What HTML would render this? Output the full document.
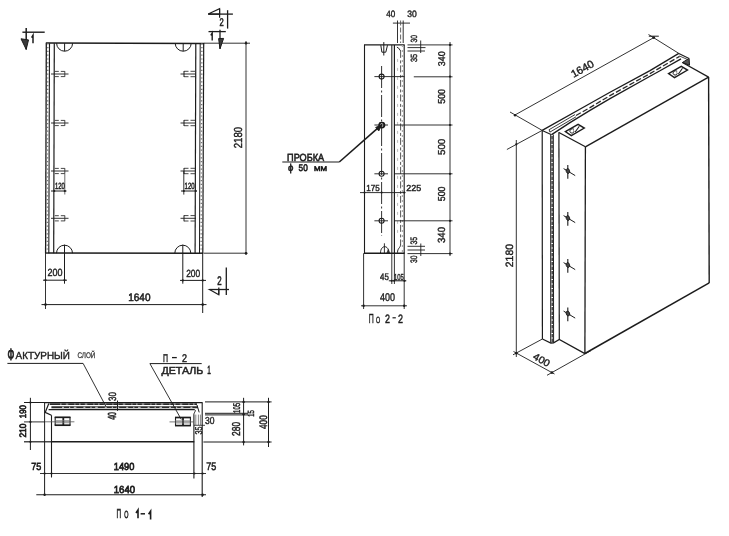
<!DOCTYPE html>
<html><head><meta charset="utf-8"><title>Panel drawing</title>
<style>
html,body{margin:0;padding:0;background:#fff;}
body{width:729px;height:536px;overflow:hidden;font-family:"Liberation Sans",sans-serif;}
svg{display:block;filter:grayscale(1);}
svg text{font-family:"Liberation Sans",sans-serif;text-rendering:geometricPrecision;}
</style></head><body>
<svg width="729" height="536" viewBox="0 0 729 536" stroke-linecap="butt">
<rect x="0" y="0" width="729" height="536" fill="#fff"/>
<line x1="45.80" y1="43.05" x2="204.20" y2="43.40" stroke="#1c1c1c" stroke-width="1.5"/>
<line x1="45.10" y1="252.90" x2="203.30" y2="253.30" stroke="#1c1c1c" stroke-width="1.5"/>
<line x1="46.30" y1="43.20" x2="45.60" y2="253.20" stroke="#1c1c1c" stroke-width="1.3"/>
<line x1="203.70" y1="43.20" x2="202.80" y2="253.20" stroke="#1c1c1c" stroke-width="1.2"/>
<line x1="49.50" y1="43.20" x2="48.80" y2="253.20" stroke="#1c1c1c" stroke-width="1.1"/>
<line x1="54.30" y1="43.20" x2="53.70" y2="253.20" stroke="#1c1c1c" stroke-width="1.2"/>
<line x1="195.80" y1="43.20" x2="195.10" y2="253.20" stroke="#1c1c1c" stroke-width="1.2"/>
<line x1="200.20" y1="43.20" x2="199.50" y2="253.20" stroke="#1c1c1c" stroke-width="1.0"/>
<line x1="47.90" y1="43.20" x2="47.20" y2="253.20" stroke="#777" stroke-width="1.4" stroke-dasharray="1.2 2.6"/>
<line x1="201.90" y1="43.20" x2="201.10" y2="253.20" stroke="#777" stroke-width="1.4" stroke-dasharray="1.2 2.6"/>
<path d="M56.599999999999994,43.2 A8,8 0 0 0 72.6,43.2" stroke="#1c1c1c" stroke-width="1.0" fill="none"/>
<line x1="64.60" y1="43.20" x2="64.60" y2="51.20" stroke="#1c1c1c" stroke-width="1.0"/>
<path d="M175.2,43.2 A8,8 0 0 0 191.2,43.2" stroke="#1c1c1c" stroke-width="1.0" fill="none"/>
<line x1="183.20" y1="43.20" x2="183.20" y2="51.20" stroke="#1c1c1c" stroke-width="1.0"/>
<path d="M56.5,253.2 A8,8 0 0 1 72.5,253.2" stroke="#1c1c1c" stroke-width="1.0" fill="none"/>
<line x1="64.50" y1="244.70" x2="64.50" y2="283.70" stroke="#1c1c1c" stroke-width="1.0"/>
<path d="M174.8,253.2 A8,8 0 0 1 190.8,253.2" stroke="#1c1c1c" stroke-width="1.0" fill="none"/>
<line x1="182.80" y1="244.70" x2="182.80" y2="283.70" stroke="#1c1c1c" stroke-width="1.0"/>
<line x1="51.00" y1="74.00" x2="68.50" y2="74.00" stroke="#1c1c1c" stroke-width="0.9"/>
<line x1="54.80" y1="71.40" x2="64.80" y2="71.40" stroke="#333" stroke-width="0.9" stroke-dasharray="4 2"/>
<line x1="54.80" y1="76.60" x2="64.80" y2="76.60" stroke="#333" stroke-width="0.9" stroke-dasharray="4 2"/>
<line x1="64.80" y1="71.20" x2="64.80" y2="76.80" stroke="#333" stroke-width="0.9"/>
<line x1="180.50" y1="74.00" x2="196.00" y2="74.00" stroke="#1c1c1c" stroke-width="0.9"/>
<line x1="184.00" y1="71.30" x2="195.50" y2="71.30" stroke="#333" stroke-width="0.9" stroke-dasharray="4.5 2"/>
<line x1="184.00" y1="76.70" x2="195.50" y2="76.70" stroke="#333" stroke-width="0.9" stroke-dasharray="4.5 2"/>
<line x1="184.00" y1="71.00" x2="184.00" y2="77.00" stroke="#1c1c1c" stroke-width="1.0"/>
<line x1="51.00" y1="123.00" x2="68.50" y2="123.00" stroke="#1c1c1c" stroke-width="0.9"/>
<line x1="54.80" y1="120.40" x2="64.80" y2="120.40" stroke="#333" stroke-width="0.9" stroke-dasharray="4 2"/>
<line x1="54.80" y1="125.60" x2="64.80" y2="125.60" stroke="#333" stroke-width="0.9" stroke-dasharray="4 2"/>
<line x1="64.80" y1="120.20" x2="64.80" y2="125.80" stroke="#333" stroke-width="0.9"/>
<line x1="180.50" y1="123.00" x2="196.00" y2="123.00" stroke="#1c1c1c" stroke-width="0.9"/>
<line x1="184.00" y1="120.30" x2="195.50" y2="120.30" stroke="#333" stroke-width="0.9" stroke-dasharray="4.5 2"/>
<line x1="184.00" y1="125.70" x2="195.50" y2="125.70" stroke="#333" stroke-width="0.9" stroke-dasharray="4.5 2"/>
<line x1="184.00" y1="120.00" x2="184.00" y2="126.00" stroke="#1c1c1c" stroke-width="1.0"/>
<line x1="51.00" y1="171.00" x2="68.50" y2="171.00" stroke="#1c1c1c" stroke-width="0.9"/>
<line x1="54.80" y1="168.40" x2="64.80" y2="168.40" stroke="#333" stroke-width="0.9" stroke-dasharray="4 2"/>
<line x1="54.80" y1="173.60" x2="64.80" y2="173.60" stroke="#333" stroke-width="0.9" stroke-dasharray="4 2"/>
<line x1="64.80" y1="168.20" x2="64.80" y2="173.80" stroke="#333" stroke-width="0.9"/>
<line x1="180.50" y1="171.00" x2="196.00" y2="171.00" stroke="#1c1c1c" stroke-width="0.9"/>
<line x1="184.00" y1="168.30" x2="195.50" y2="168.30" stroke="#333" stroke-width="0.9" stroke-dasharray="4.5 2"/>
<line x1="184.00" y1="173.70" x2="195.50" y2="173.70" stroke="#333" stroke-width="0.9" stroke-dasharray="4.5 2"/>
<line x1="184.00" y1="168.00" x2="184.00" y2="174.00" stroke="#1c1c1c" stroke-width="1.0"/>
<line x1="51.00" y1="218.30" x2="68.50" y2="218.30" stroke="#1c1c1c" stroke-width="0.9"/>
<line x1="54.80" y1="215.70" x2="64.80" y2="215.70" stroke="#333" stroke-width="0.9" stroke-dasharray="4 2"/>
<line x1="54.80" y1="220.90" x2="64.80" y2="220.90" stroke="#333" stroke-width="0.9" stroke-dasharray="4 2"/>
<line x1="64.80" y1="215.50" x2="64.80" y2="221.10" stroke="#333" stroke-width="0.9"/>
<line x1="180.50" y1="218.30" x2="196.00" y2="218.30" stroke="#1c1c1c" stroke-width="0.9"/>
<line x1="184.00" y1="215.60" x2="195.50" y2="215.60" stroke="#333" stroke-width="0.9" stroke-dasharray="4.5 2"/>
<line x1="184.00" y1="221.00" x2="195.50" y2="221.00" stroke="#333" stroke-width="0.9" stroke-dasharray="4.5 2"/>
<line x1="184.00" y1="215.30" x2="184.00" y2="221.30" stroke="#1c1c1c" stroke-width="1.0"/>
<line x1="51.00" y1="191.00" x2="66.50" y2="191.00" stroke="#1c1c1c" stroke-width="1.0"/>
<line x1="64.80" y1="174.00" x2="64.80" y2="194.50" stroke="#444" stroke-width="0.8"/>
<circle cx="54.30" cy="191.00" r="1.0" fill="#1c1c1c"/>
<circle cx="64.80" cy="191.00" r="1.1" fill="#1c1c1c"/>
<line x1="181.00" y1="191.00" x2="197.00" y2="191.00" stroke="#1c1c1c" stroke-width="1.0"/>
<line x1="183.80" y1="171.00" x2="183.80" y2="194.60" stroke="#1c1c1c" stroke-width="0.9"/>
<circle cx="183.80" cy="191.00" r="1.1" fill="#1c1c1c"/>
<circle cx="195.70" cy="191.00" r="1.0" fill="#1c1c1c"/>
<text x="55.00" y="188.60" font-size="9.08" textLength="9.80" lengthAdjust="spacingAndGlyphs" fill="#1e1e1e" stroke="#1e1e1e" stroke-width="0.5">120</text>
<text x="184.60" y="188.70" font-size="9.08" textLength="10.00" lengthAdjust="spacingAndGlyphs" fill="#1e1e1e" stroke="#1e1e1e" stroke-width="0.5">120</text>
<line x1="45.50" y1="253.20" x2="45.50" y2="309.00" stroke="#1c1c1c" stroke-width="0.9"/>
<line x1="202.70" y1="253.20" x2="202.70" y2="313.00" stroke="#1c1c1c" stroke-width="1.0"/>
<line x1="43.00" y1="280.20" x2="67.00" y2="280.20" stroke="#1c1c1c" stroke-width="1.0"/>
<circle cx="45.50" cy="280.20" r="1.1" fill="#1c1c1c"/>
<circle cx="64.50" cy="280.20" r="1.1" fill="#1c1c1c"/>
<line x1="180.00" y1="280.40" x2="206.00" y2="280.40" stroke="#1c1c1c" stroke-width="1.0"/>
<circle cx="182.80" cy="280.40" r="1.1" fill="#1c1c1c"/>
<circle cx="202.70" cy="280.40" r="1.1" fill="#1c1c1c"/>
<text x="47.50" y="276.40" font-size="10.34" textLength="15.00" lengthAdjust="spacingAndGlyphs" fill="#1e1e1e" stroke="#1e1e1e" stroke-width="0.4">200</text>
<text x="186.20" y="276.80" font-size="10.34" textLength="14.00" lengthAdjust="spacingAndGlyphs" fill="#1e1e1e" stroke="#1e1e1e" stroke-width="0.4">200</text>
<line x1="41.50" y1="304.60" x2="206.50" y2="304.60" stroke="#1c1c1c" stroke-width="1.0"/>
<circle cx="45.50" cy="304.60" r="1.3" fill="#1c1c1c"/>
<circle cx="202.70" cy="304.60" r="1.3" fill="#1c1c1c"/>
<text x="128.20" y="300.80" font-size="10.89" textLength="22.30" lengthAdjust="spacingAndGlyphs" fill="#1e1e1e" stroke="#1e1e1e" stroke-width="0.55">1640</text>
<line x1="204.00" y1="43.20" x2="250.00" y2="43.20" stroke="#1c1c1c" stroke-width="0.9"/>
<line x1="204.00" y1="253.20" x2="247.50" y2="253.20" stroke="#1c1c1c" stroke-width="0.9"/>
<line x1="246.00" y1="41.00" x2="246.00" y2="255.00" stroke="#1c1c1c" stroke-width="0.9"/>
<circle cx="246.00" cy="43.20" r="1.2" fill="#1c1c1c"/>
<circle cx="246.00" cy="253.20" r="1.2" fill="#1c1c1c"/>
<text x="242.50" y="148.20" font-size="11.59" textLength="21.20" lengthAdjust="spacingAndGlyphs" fill="#1e1e1e" stroke="#1e1e1e" stroke-width="0.45" transform="rotate(-90 242.50 148.20)">2180</text>
<line x1="22.40" y1="32.20" x2="44.70" y2="32.20" stroke="#1c1c1c" stroke-width="1.4"/>
<line x1="26.20" y1="27.90" x2="26.20" y2="49.40" stroke="#1c1c1c" stroke-width="1.5"/>
<path d="M21,38.8 L26.2,49.4 L28.5,39.9 Z" stroke="#1c1c1c" stroke-width="1.0" fill="#3a3a3a"/>
<path d="M31.6,37.6 L33,35.2 L33,43.2" stroke="#1c1c1c" stroke-width="1.5" fill="none"/>
<line x1="208.20" y1="14.10" x2="232.90" y2="14.10" stroke="#1c1c1c" stroke-width="1.3"/>
<path d="M208.2,14.1 L219.6,8.7 L219.6,14.1 Z" stroke="#1c1c1c" stroke-width="1.1" fill="none"/>
<line x1="219.60" y1="8.70" x2="219.60" y2="17.70" stroke="#1c1c1c" stroke-width="1.2"/>
<line x1="227.60" y1="10.20" x2="227.60" y2="28.60" stroke="#1c1c1c" stroke-width="1.3"/>
<text x="219.40" y="25.50" font-size="11.17" textLength="4.20" lengthAdjust="spacingAndGlyphs" fill="#1e1e1e" stroke="#1e1e1e" stroke-width="0.6">2</text>
<line x1="208.50" y1="31.60" x2="225.80" y2="31.60" stroke="#1c1c1c" stroke-width="1.3"/>
<line x1="220.00" y1="29.80" x2="220.00" y2="48.80" stroke="#1c1c1c" stroke-width="1.3"/>
<path d="M218.6,38.6 L223.6,38.4 L220,48.8 Z" stroke="#1c1c1c" stroke-width="1.0" fill="#3a3a3a"/>
<path d="M210.8,35.4 L212.2,33 L212.2,40.5" stroke="#1c1c1c" stroke-width="1.4" fill="none"/>
<line x1="226.30" y1="267.50" x2="226.30" y2="295.00" stroke="#1c1c1c" stroke-width="1.3"/>
<line x1="209.50" y1="289.50" x2="229.00" y2="289.50" stroke="#1c1c1c" stroke-width="1.3"/>
<path d="M209.5,289.5 L218.8,294.7 L218.8,289.5 Z" stroke="#1c1c1c" stroke-width="1.1" fill="none"/>
<line x1="218.80" y1="287.50" x2="218.80" y2="294.70" stroke="#1c1c1c" stroke-width="1.2"/>
<text x="217.20" y="284.70" font-size="12.57" textLength="4.40" lengthAdjust="spacingAndGlyphs" fill="#1e1e1e" stroke="#1e1e1e" stroke-width="0.6">2</text>
<line x1="364.00" y1="44.90" x2="404.70" y2="44.90" stroke="#1c1c1c" stroke-width="1.4"/>
<line x1="364.00" y1="253.20" x2="404.70" y2="253.20" stroke="#1c1c1c" stroke-width="1.5"/>
<line x1="364.50" y1="44.90" x2="364.50" y2="253.20" stroke="#1c1c1c" stroke-width="1.1"/>
<line x1="404.20" y1="44.90" x2="404.20" y2="253.20" stroke="#1c1c1c" stroke-width="1.1"/>
<line x1="391.80" y1="44.90" x2="391.80" y2="253.20" stroke="#2a2a2a" stroke-width="1.1"/>
<line x1="394.40" y1="44.90" x2="394.40" y2="253.20" stroke="#1c1c1c" stroke-width="1.2"/>
<path d="M396.9,47.1 L398.6,48.1 L400.6,50.9" stroke="#222" stroke-width="1.0" fill="none"/>
<path d="M400.6,244.2 C400.6,248.2 397.5,247.7 397.5,252.7" stroke="#222" stroke-width="1.0" fill="none"/>
<line x1="400.60" y1="50.90" x2="400.60" y2="244.20" stroke="#444" stroke-width="0.9" stroke-dasharray="7 2.5 3 2"/>
<line x1="402.40" y1="44.90" x2="402.40" y2="253.20" stroke="#aaa" stroke-width="1.2" stroke-dasharray="2 3"/>
<line x1="397.60" y1="58.90" x2="397.60" y2="237.20" stroke="#bbb" stroke-width="1.0" stroke-dasharray="3 6"/>
<line x1="381.60" y1="66.00" x2="381.60" y2="236.00" stroke="#1c1c1c" stroke-width="0.9" stroke-dasharray="22 2.5 2 2.5"/>
<line x1="374.40" y1="76.60" x2="404.40" y2="76.60" stroke="#1c1c1c" stroke-width="0.9"/>
<line x1="413.80" y1="76.80" x2="452.50" y2="76.80" stroke="#1c1c1c" stroke-width="0.9"/>
<line x1="374.40" y1="125.00" x2="388.00" y2="125.00" stroke="#1c1c1c" stroke-width="0.9"/>
<line x1="394.40" y1="125.00" x2="452.50" y2="125.00" stroke="#1c1c1c" stroke-width="0.9"/>
<line x1="374.40" y1="173.80" x2="388.00" y2="173.80" stroke="#1c1c1c" stroke-width="0.9"/>
<line x1="394.40" y1="173.80" x2="452.50" y2="173.80" stroke="#1c1c1c" stroke-width="0.9"/>
<line x1="374.40" y1="220.80" x2="388.00" y2="220.80" stroke="#1c1c1c" stroke-width="0.9"/>
<line x1="394.40" y1="220.80" x2="452.50" y2="220.80" stroke="#1c1c1c" stroke-width="0.9"/>
<circle cx="381.60" cy="76.60" r="2.5" stroke="#1c1c1c" stroke-width="1.1" fill="none"/>
<circle cx="381.60" cy="125.00" r="2.5" stroke="#1c1c1c" stroke-width="1.1" fill="none"/>
<circle cx="381.60" cy="173.80" r="2.5" stroke="#1c1c1c" stroke-width="1.1" fill="none"/>
<circle cx="381.60" cy="220.80" r="2.5" stroke="#1c1c1c" stroke-width="1.1" fill="none"/>
<path d="M380.8,45.2 L381.9,52.2 L385.8,52.2 L387.5,45.2" stroke="#1c1c1c" stroke-width="1.0" fill="none"/>
<line x1="383.80" y1="42.10" x2="383.80" y2="55.50" stroke="#1c1c1c" stroke-width="1.0"/>
<path d="M380.5,253.2 C380.5,244.5 388.8,244.5 389.1,253.2" stroke="#1c1c1c" stroke-width="1.0" fill="none"/>
<path d="M386.8,253.2 L388.2,249.5 L389.3,253.2 Z" stroke="#1c1c1c" stroke-width="0.6" fill="#333"/>
<line x1="384.40" y1="243.30" x2="384.40" y2="253.20" stroke="#1c1c1c" stroke-width="0.9"/>
<line x1="392.90" y1="23.10" x2="410.00" y2="23.10" stroke="#1c1c1c" stroke-width="0.9"/>
<line x1="397.50" y1="20.50" x2="397.50" y2="43.00" stroke="#1c1c1c" stroke-width="0.9"/>
<line x1="400.60" y1="20.50" x2="400.60" y2="43.00" stroke="#555" stroke-width="0.9" stroke-dasharray="5 2"/>
<line x1="403.20" y1="20.50" x2="403.20" y2="43.00" stroke="#1c1c1c" stroke-width="0.9"/>
<text x="386.30" y="16.90" font-size="9.22" textLength="9.00" lengthAdjust="spacingAndGlyphs" fill="#1e1e1e" stroke="#1e1e1e" stroke-width="0.4">40</text>
<text x="407.30" y="16.90" font-size="9.22" textLength="9.50" lengthAdjust="spacingAndGlyphs" fill="#1e1e1e" stroke="#1e1e1e" stroke-width="0.4">30</text>
<line x1="407.50" y1="44.90" x2="452.50" y2="44.90" stroke="#1c1c1c" stroke-width="0.9"/>
<line x1="407.50" y1="47.60" x2="425.50" y2="47.60" stroke="#1c1c1c" stroke-width="0.9"/>
<line x1="407.50" y1="51.00" x2="425.00" y2="51.00" stroke="#1c1c1c" stroke-width="0.9"/>
<line x1="420.70" y1="40.50" x2="420.70" y2="53.00" stroke="#1c1c1c" stroke-width="0.9"/>
<text x="417.00" y="42.50" font-size="8.94" textLength="7.50" lengthAdjust="spacingAndGlyphs" fill="#1e1e1e" stroke="#1e1e1e" stroke-width="0.4" transform="rotate(-90 417.00 42.50)">30</text>
<text x="417.00" y="62.00" font-size="8.94" textLength="8.20" lengthAdjust="spacingAndGlyphs" fill="#1e1e1e" stroke="#1e1e1e" stroke-width="0.4" transform="rotate(-90 417.00 62.00)">35</text>
<line x1="407.50" y1="253.60" x2="452.50" y2="253.60" stroke="#1c1c1c" stroke-width="0.9"/>
<line x1="407.50" y1="246.30" x2="425.00" y2="246.30" stroke="#1c1c1c" stroke-width="0.9"/>
<line x1="407.50" y1="250.00" x2="425.00" y2="250.00" stroke="#1c1c1c" stroke-width="0.9"/>
<line x1="420.80" y1="243.50" x2="420.80" y2="256.00" stroke="#1c1c1c" stroke-width="0.9"/>
<text x="417.00" y="244.60" font-size="9.36" textLength="7.60" lengthAdjust="spacingAndGlyphs" fill="#1e1e1e" stroke="#1e1e1e" stroke-width="0.4" transform="rotate(-90 417.00 244.60)">35</text>
<text x="417.00" y="263.00" font-size="9.36" textLength="7.50" lengthAdjust="spacingAndGlyphs" fill="#1e1e1e" stroke="#1e1e1e" stroke-width="0.4" transform="rotate(-90 417.00 263.00)">30</text>
<line x1="450.00" y1="42.00" x2="450.00" y2="256.00" stroke="#1c1c1c" stroke-width="0.9"/>
<circle cx="450.00" cy="44.90" r="1.1" fill="#1c1c1c"/>
<circle cx="450.00" cy="76.60" r="1.1" fill="#1c1c1c"/>
<circle cx="450.00" cy="125.00" r="1.1" fill="#1c1c1c"/>
<circle cx="450.00" cy="173.80" r="1.1" fill="#1c1c1c"/>
<circle cx="450.00" cy="220.80" r="1.1" fill="#1c1c1c"/>
<circle cx="450.00" cy="253.60" r="1.1" fill="#1c1c1c"/>
<text x="445.20" y="66.30" font-size="9.78" textLength="15.00" lengthAdjust="spacingAndGlyphs" fill="#1e1e1e" stroke="#1e1e1e" stroke-width="0.4" transform="rotate(-90 445.20 66.30)">340</text>
<text x="444.60" y="103.80" font-size="10.06" textLength="14.80" lengthAdjust="spacingAndGlyphs" fill="#1e1e1e" stroke="#1e1e1e" stroke-width="0.4" transform="rotate(-90 444.60 103.80)">500</text>
<text x="444.60" y="155.00" font-size="10.06" textLength="16.20" lengthAdjust="spacingAndGlyphs" fill="#1e1e1e" stroke="#1e1e1e" stroke-width="0.4" transform="rotate(-90 444.60 155.00)">500</text>
<text x="444.60" y="201.30" font-size="10.06" textLength="14.80" lengthAdjust="spacingAndGlyphs" fill="#1e1e1e" stroke="#1e1e1e" stroke-width="0.4" transform="rotate(-90 444.60 201.30)">500</text>
<text x="444.80" y="243.00" font-size="10.34" textLength="16.00" lengthAdjust="spacingAndGlyphs" fill="#1e1e1e" stroke="#1e1e1e" stroke-width="0.4" transform="rotate(-90 444.80 243.00)">340</text>
<line x1="360.00" y1="192.60" x2="405.50" y2="192.60" stroke="#1c1c1c" stroke-width="0.9"/>
<circle cx="364.50" cy="192.60" r="1.0" fill="#1c1c1c"/>
<circle cx="381.60" cy="192.60" r="1.0" fill="#1c1c1c"/>
<circle cx="404.20" cy="192.60" r="1.0" fill="#1c1c1c"/>
<text x="366.30" y="191.20" font-size="8.80" textLength="13.50" lengthAdjust="spacingAndGlyphs" fill="#1e1e1e" stroke="#1e1e1e" stroke-width="0.4">175</text>
<text x="406.30" y="191.20" font-size="8.80" textLength="15.00" lengthAdjust="spacingAndGlyphs" fill="#1e1e1e" stroke="#1e1e1e" stroke-width="0.4">225</text>
<line x1="363.60" y1="253.20" x2="363.60" y2="309.00" stroke="#1c1c1c" stroke-width="0.9"/>
<line x1="391.80" y1="253.20" x2="391.80" y2="284.00" stroke="#1c1c1c" stroke-width="0.9"/>
<line x1="394.40" y1="253.20" x2="394.40" y2="284.00" stroke="#1c1c1c" stroke-width="0.9"/>
<line x1="404.20" y1="253.20" x2="404.20" y2="309.00" stroke="#1c1c1c" stroke-width="0.9"/>
<line x1="388.80" y1="280.80" x2="406.30" y2="280.80" stroke="#1c1c1c" stroke-width="1.0"/>
<circle cx="391.60" cy="280.80" r="1.0" fill="#1c1c1c"/>
<circle cx="394.20" cy="280.80" r="1.0" fill="#1c1c1c"/>
<circle cx="404.50" cy="280.80" r="1.1" fill="#1c1c1c"/>
<text x="380.00" y="279.50" font-size="9.64" textLength="8.80" lengthAdjust="spacingAndGlyphs" fill="#1e1e1e" stroke="#1e1e1e" stroke-width="0.4">45</text>
<text x="394.00" y="279.50" font-size="8.66" textLength="9.80" lengthAdjust="spacingAndGlyphs" fill="#1e1e1e" stroke="#1e1e1e" stroke-width="0.4">105</text>
<line x1="361.00" y1="305.80" x2="407.00" y2="305.80" stroke="#1c1c1c" stroke-width="0.9"/>
<circle cx="363.60" cy="305.80" r="1.2" fill="#1c1c1c"/>
<circle cx="404.20" cy="305.80" r="1.2" fill="#1c1c1c"/>
<text x="380.00" y="300.70" font-size="11.17" textLength="15.00" lengthAdjust="spacingAndGlyphs" fill="#1e1e1e" stroke="#1e1e1e" stroke-width="0.4">400</text>
<text x="368.80" y="322.80" font-size="13.13" textLength="5.00" lengthAdjust="spacingAndGlyphs" fill="#1e1e1e" stroke="#1e1e1e" stroke-width="0.45">П</text>
<text x="376.00" y="322.60" font-size="8.94" textLength="4.20" lengthAdjust="spacingAndGlyphs" fill="#1e1e1e" stroke="#1e1e1e" stroke-width="0.45">О</text>
<text x="385.00" y="322.60" font-size="12.15" textLength="5.00" lengthAdjust="spacingAndGlyphs" fill="#1e1e1e" stroke="#1e1e1e" stroke-width="0.45">2</text>
<line x1="392.50" y1="317.80" x2="395.80" y2="317.80" stroke="#1c1c1c" stroke-width="1.2"/>
<text x="398.10" y="322.60" font-size="12.15" textLength="5.00" lengthAdjust="spacingAndGlyphs" fill="#1e1e1e" stroke="#1e1e1e" stroke-width="0.45">2</text>
<line x1="380.60" y1="125.60" x2="339.30" y2="162.00" stroke="#1c1c1c" stroke-width="1.6"/>
<line x1="282.30" y1="162.00" x2="339.30" y2="162.00" stroke="#1c1c1c" stroke-width="1.1"/>
<path d="M381.8,124.6 L375.6,127.4 L378.8,131 Z" stroke="#1c1c1c" stroke-width="0.8" fill="#1c1c1c"/>
<circle cx="381.90" cy="125.10" r="2.7" stroke="#1c1c1c" stroke-width="1.5" fill="none"/>
<text x="287.10" y="160.80" font-size="10.34" textLength="37.00" lengthAdjust="spacingAndGlyphs" fill="#1e1e1e" stroke="#1e1e1e" stroke-width="0.6">ПРОБКА</text>
<text x="288.00" y="171.20" font-size="10.06" textLength="5.40" lengthAdjust="spacingAndGlyphs" fill="#1e1e1e" stroke="#1e1e1e" stroke-width="0.6">ϕ</text>
<text x="298.60" y="170.50" font-size="9.50" textLength="9.20" lengthAdjust="spacingAndGlyphs" fill="#1e1e1e" stroke="#1e1e1e" stroke-width="0.6">50</text>
<text x="314.00" y="170.50" font-size="6.98" textLength="13.00" lengthAdjust="spacingAndGlyphs" fill="#1e1e1e" stroke="#1e1e1e" stroke-width="0.6">ММ</text>
<line x1="44.20" y1="402.60" x2="202.50" y2="402.60" stroke="#1c1c1c" stroke-width="1.3"/>
<line x1="49.70" y1="404.10" x2="197.00" y2="404.10" stroke="#2a2a2a" stroke-width="1.7"/>
<line x1="60.00" y1="404.10" x2="196.00" y2="404.10" stroke="#fff" stroke-width="0.7" stroke-dasharray="1.6 4.2 2.5 6 1.2 3.5"/>
<line x1="51.40" y1="407.30" x2="198.00" y2="407.30" stroke="#2a2a2a" stroke-width="1.9"/>
<line x1="62.00" y1="407.30" x2="196.00" y2="407.30" stroke="#fff" stroke-width="0.8" stroke-dasharray="2 5 1.2 3.6 2.6 7"/>
<line x1="48.60" y1="409.60" x2="194.70" y2="409.60" stroke="#1c1c1c" stroke-width="1.3"/>
<line x1="44.60" y1="402.60" x2="44.60" y2="495.50" stroke="#1c1c1c" stroke-width="1.0"/>
<path d="M48.8,403.6 L45.2,412.4 L51.4,415.3" stroke="#1c1c1c" stroke-width="1.2" fill="none"/>
<line x1="51.50" y1="415.20" x2="51.50" y2="477.50" stroke="#1c1c1c" stroke-width="1.1"/>
<line x1="202.20" y1="402.60" x2="202.20" y2="497.00" stroke="#1c1c1c" stroke-width="1.1"/>
<path d="M197,405 L199.2,412.4 M194.7,409.9 C196.5,410.5 194.2,412 193.8,414.6" stroke="#1c1c1c" stroke-width="1.0" fill="none"/>
<line x1="193.90" y1="414.40" x2="193.90" y2="478.50" stroke="#1c1c1c" stroke-width="1.1"/>
<line x1="195.80" y1="414.60" x2="195.80" y2="425.00" stroke="#555" stroke-width="0.7"/>
<line x1="198.40" y1="414.60" x2="198.40" y2="425.00" stroke="#555" stroke-width="0.7"/>
<line x1="200.40" y1="414.60" x2="200.40" y2="425.00" stroke="#555" stroke-width="0.7"/>
<line x1="51.00" y1="441.70" x2="194.30" y2="441.70" stroke="#1c1c1c" stroke-width="1.5"/>
<line x1="54.70" y1="417.30" x2="70.50" y2="417.30" stroke="#1c1c1c" stroke-width="1.7"/>
<line x1="54.70" y1="425.20" x2="70.50" y2="425.20" stroke="#1c1c1c" stroke-width="1.7"/>
<line x1="55.20" y1="417.00" x2="55.20" y2="425.50" stroke="#1c1c1c" stroke-width="1.1"/>
<line x1="70.00" y1="417.00" x2="70.00" y2="425.50" stroke="#1c1c1c" stroke-width="1.1"/>
<line x1="63.30" y1="417.00" x2="63.30" y2="425.50" stroke="#1c1c1c" stroke-width="1.8"/>
<line x1="55.00" y1="420.60" x2="70.00" y2="420.60" stroke="#777" stroke-width="0.7"/>
<line x1="55.00" y1="422.80" x2="70.00" y2="422.80" stroke="#777" stroke-width="0.7"/>
<line x1="45.00" y1="421.80" x2="74.40" y2="421.80" stroke="#555" stroke-width="0.8"/>
<line x1="175.00" y1="417.50" x2="190.90" y2="417.50" stroke="#1c1c1c" stroke-width="1.7"/>
<line x1="175.00" y1="425.60" x2="190.90" y2="425.60" stroke="#1c1c1c" stroke-width="1.7"/>
<line x1="175.50" y1="417.20" x2="175.50" y2="426.00" stroke="#1c1c1c" stroke-width="1.1"/>
<line x1="190.40" y1="417.20" x2="190.40" y2="426.00" stroke="#1c1c1c" stroke-width="1.1"/>
<line x1="183.00" y1="417.20" x2="183.00" y2="426.00" stroke="#1c1c1c" stroke-width="1.8"/>
<line x1="175.00" y1="420.80" x2="190.50" y2="420.80" stroke="#777" stroke-width="0.7"/>
<line x1="175.00" y1="423.00" x2="190.50" y2="423.00" stroke="#777" stroke-width="0.7"/>
<line x1="169.50" y1="421.90" x2="193.80" y2="421.90" stroke="#555" stroke-width="0.8"/>
<line x1="30.40" y1="397.80" x2="30.40" y2="450.00" stroke="#1c1c1c" stroke-width="1.0"/>
<line x1="24.00" y1="402.50" x2="45.00" y2="402.50" stroke="#1c1c1c" stroke-width="1.0"/>
<line x1="24.00" y1="421.90" x2="45.00" y2="421.90" stroke="#1c1c1c" stroke-width="0.9"/>
<line x1="24.00" y1="441.80" x2="51.00" y2="441.80" stroke="#1c1c1c" stroke-width="1.2"/>
<circle cx="30.40" cy="402.50" r="1.1" fill="#1c1c1c"/>
<circle cx="30.40" cy="421.90" r="1.1" fill="#1c1c1c"/>
<circle cx="30.40" cy="441.80" r="1.1" fill="#1c1c1c"/>
<text x="26.20" y="418.20" font-size="9.36" textLength="13.20" lengthAdjust="spacingAndGlyphs" fill="#1e1e1e" stroke="#1e1e1e" stroke-width="0.7" transform="rotate(-90 26.20 418.20)">190</text>
<text x="26.20" y="437.60" font-size="9.36" textLength="14.00" lengthAdjust="spacingAndGlyphs" fill="#1e1e1e" stroke="#1e1e1e" stroke-width="0.7" transform="rotate(-90 26.20 437.60)">210</text>
<line x1="117.50" y1="400.50" x2="117.50" y2="410.80" stroke="#1c1c1c" stroke-width="1.0"/>
<text x="116.10" y="401.00" font-size="10.61" textLength="8.90" lengthAdjust="spacingAndGlyphs" fill="#1e1e1e" stroke="#1e1e1e" stroke-width="0.45" transform="rotate(-90 116.10 401.00)">30</text>
<text x="116.40" y="419.80" font-size="11.73" textLength="7.80" lengthAdjust="spacingAndGlyphs" fill="#1e1e1e" stroke="#1e1e1e" stroke-width="0.5" transform="rotate(-90 116.40 419.80)">40</text>
<text x="7.40" y="359.60" font-size="16.20" textLength="6.80" lengthAdjust="spacingAndGlyphs" fill="#1e1e1e" stroke="#1e1e1e" stroke-width="1.0">Ф</text>
<text x="15.60" y="359.00" font-size="10.34" textLength="54.40" lengthAdjust="spacingAndGlyphs" fill="#1e1e1e" stroke="#1e1e1e" stroke-width="0.4">АКТУРНЫЙ</text>
<text x="77.40" y="357.80" font-size="8.10" textLength="18.00" lengthAdjust="spacingAndGlyphs" fill="#3a3a3a" stroke="#3a3a3a" stroke-width="0.3">СЛОЙ</text>
<line x1="7.40" y1="363.40" x2="83.10" y2="363.40" stroke="#1c1c1c" stroke-width="1.0"/>
<line x1="83.10" y1="363.40" x2="106.00" y2="406.60" stroke="#1c1c1c" stroke-width="0.9"/>
<text x="163.00" y="361.50" font-size="11.17" textLength="5.00" lengthAdjust="spacingAndGlyphs" fill="#1e1e1e" stroke="#1e1e1e" stroke-width="0.5">П</text>
<line x1="172.00" y1="357.60" x2="176.80" y2="357.60" stroke="#1c1c1c" stroke-width="1.3"/>
<text x="182.00" y="361.50" font-size="11.17" textLength="5.00" lengthAdjust="spacingAndGlyphs" fill="#1e1e1e" stroke="#1e1e1e" stroke-width="0.5">2</text>
<line x1="149.90" y1="363.60" x2="201.70" y2="363.60" stroke="#1c1c1c" stroke-width="1.0"/>
<text x="161.40" y="373.60" font-size="10.34" textLength="42.00" lengthAdjust="spacingAndGlyphs" fill="#1e1e1e" stroke="#1e1e1e" stroke-width="0.5">ДЕТАЛЬ</text>
<text x="207.30" y="373.80" font-size="12.01" textLength="3.60" lengthAdjust="spacingAndGlyphs" fill="#1e1e1e" stroke="#1e1e1e" stroke-width="0.6">1</text>
<line x1="149.90" y1="363.60" x2="181.30" y2="419.50" stroke="#1c1c1c" stroke-width="0.9"/>
<line x1="205.00" y1="401.90" x2="271.60" y2="401.90" stroke="#1c1c1c" stroke-width="1.0"/>
<line x1="205.00" y1="413.30" x2="248.00" y2="413.30" stroke="#1c1c1c" stroke-width="1.0"/>
<line x1="205.00" y1="414.90" x2="248.00" y2="414.90" stroke="#1c1c1c" stroke-width="1.0"/>
<line x1="203.40" y1="442.00" x2="271.60" y2="442.00" stroke="#1c1c1c" stroke-width="1.1"/>
<line x1="243.60" y1="397.80" x2="243.60" y2="445.40" stroke="#1c1c1c" stroke-width="1.0"/>
<line x1="268.50" y1="397.80" x2="268.50" y2="447.00" stroke="#1c1c1c" stroke-width="1.0"/>
<circle cx="243.60" cy="401.90" r="1.2" fill="#1c1c1c"/>
<circle cx="243.60" cy="414.20" r="1.2" fill="#1c1c1c"/>
<circle cx="243.60" cy="442.00" r="1.2" fill="#1c1c1c"/>
<circle cx="268.50" cy="401.90" r="1.2" fill="#1c1c1c"/>
<circle cx="268.50" cy="442.00" r="1.2" fill="#1c1c1c"/>
<text x="239.70" y="412.90" font-size="9.78" textLength="10.00" lengthAdjust="spacingAndGlyphs" fill="#1e1e1e" stroke="#1e1e1e" stroke-width="0.45" transform="rotate(-90 239.70 412.90)">105</text>
<text x="253.60" y="416.80" font-size="8.94" textLength="6.70" lengthAdjust="spacingAndGlyphs" fill="#1e1e1e" stroke="#1e1e1e" stroke-width="0.45" transform="rotate(-90 253.60 416.80)">15</text>
<text x="240.30" y="435.90" font-size="11.45" textLength="14.00" lengthAdjust="spacingAndGlyphs" fill="#1e1e1e" stroke="#1e1e1e" stroke-width="0.5" transform="rotate(-90 240.30 435.90)">280</text>
<text x="267.10" y="429.10" font-size="10.89" textLength="13.90" lengthAdjust="spacingAndGlyphs" fill="#1e1e1e" stroke="#1e1e1e" stroke-width="0.5" transform="rotate(-90 267.10 429.10)">400</text>
<text x="205.00" y="423.60" font-size="10.20" textLength="9.50" lengthAdjust="spacingAndGlyphs" fill="#1e1e1e" stroke="#1e1e1e" stroke-width="0.4">30</text>
<text x="201.60" y="434.40" font-size="9.78" textLength="8.00" lengthAdjust="spacingAndGlyphs" fill="#1e1e1e" stroke="#1e1e1e" stroke-width="0.4" transform="rotate(-90 201.60 434.40)">35</text>
<line x1="194.00" y1="425.30" x2="205.00" y2="425.30" stroke="#1c1c1c" stroke-width="0.8"/>
<line x1="40.00" y1="473.50" x2="206.00" y2="473.50" stroke="#1c1c1c" stroke-width="0.9"/>
<circle cx="44.60" cy="473.50" r="1.1" fill="#1c1c1c"/>
<circle cx="51.50" cy="473.50" r="1.1" fill="#1c1c1c"/>
<circle cx="194.40" cy="473.50" r="1.1" fill="#1c1c1c"/>
<circle cx="202.60" cy="473.50" r="1.1" fill="#1c1c1c"/>
<text x="31.30" y="469.50" font-size="10.34" textLength="10.00" lengthAdjust="spacingAndGlyphs" fill="#1e1e1e" stroke="#1e1e1e" stroke-width="0.65">75</text>
<text x="206.30" y="470.00" font-size="10.89" textLength="10.00" lengthAdjust="spacingAndGlyphs" fill="#1e1e1e" stroke="#1e1e1e" stroke-width="0.55">75</text>
<text x="113.80" y="469.80" font-size="10.34" textLength="20.60" lengthAdjust="spacingAndGlyphs" fill="#1e1e1e" stroke="#1e1e1e" stroke-width="0.75">1490</text>
<line x1="36.30" y1="494.80" x2="206.00" y2="494.80" stroke="#1c1c1c" stroke-width="1.1"/>
<circle cx="44.60" cy="494.80" r="1.2" fill="#1c1c1c"/>
<circle cx="202.60" cy="494.80" r="1.2" fill="#1c1c1c"/>
<text x="113.80" y="492.60" font-size="10.20" textLength="21.20" lengthAdjust="spacingAndGlyphs" fill="#1e1e1e" stroke="#1e1e1e" stroke-width="0.75">1640</text>
<text x="116.50" y="518.10" font-size="12.85" textLength="4.60" lengthAdjust="spacingAndGlyphs" fill="#1e1e1e" stroke="#1e1e1e" stroke-width="0.6">П</text>
<text x="124.20" y="517.80" font-size="10.34" textLength="4.20" lengthAdjust="spacingAndGlyphs" fill="#1e1e1e" stroke="#1e1e1e" stroke-width="0.6">О</text>
<path d="M136,513 L138,510 L138,518.2" stroke="#1c1c1c" stroke-width="1.6" fill="none"/>
<line x1="140.60" y1="513.80" x2="145.00" y2="513.80" stroke="#1c1c1c" stroke-width="1.5"/>
<path d="M148.6,514.2 L150.6,511.2 L150.6,519.4" stroke="#1c1c1c" stroke-width="1.6" fill="none"/>
<line x1="542.20" y1="130.40" x2="542.40" y2="339.00" stroke="#1c1c1c" stroke-width="1.2"/>
<line x1="550.70" y1="134.70" x2="550.70" y2="342.60" stroke="#1c1c1c" stroke-width="1.0"/>
<line x1="553.30" y1="134.50" x2="553.60" y2="342.60" stroke="#1c1c1c" stroke-width="1.0"/>
<line x1="552.05" y1="136.00" x2="552.30" y2="342.00" stroke="#4a4a4a" stroke-width="1.7" stroke-dasharray="3.5 1"/>
<line x1="558.90" y1="132.30" x2="559.30" y2="339.40" stroke="#1c1c1c" stroke-width="1.2"/>
<line x1="585.40" y1="146.80" x2="584.90" y2="353.50" stroke="#1c1c1c" stroke-width="1.3"/>
<line x1="708.60" y1="77.10" x2="709.20" y2="282.90" stroke="#1c1c1c" stroke-width="1.4"/>
<path d="M542.2,130.4 L590,103.5 L610,92.3 L650,70.6 L678.8,53.4" stroke="#1c1c1c" stroke-width="1.3" fill="none"/>
<line x1="542.20" y1="130.40" x2="551.60" y2="134.70" stroke="#1c1c1c" stroke-width="1.1"/>
<path d="M575,114.6 L549.1,129.7 L549.9,132.1 L576,116.8" stroke="#222" stroke-width="0.9" fill="none"/>
<path d="M576,115.5 L590,107.6 L610,95.6 L650,73.6 L679.6,56.4" stroke="#2a2a2a" stroke-width="1.3" fill="none" stroke-dasharray="5.5 2.2"/>
<path d="M551.6,134.6 L570,122.6 L590,110.4 L610,98.6 L650,76.2 L660,70.8 L681,58.9" stroke="#1c1c1c" stroke-width="1.3" fill="none"/>
<line x1="678.80" y1="53.40" x2="689.10" y2="58.40" stroke="#1c1c1c" stroke-width="1.1"/>
<line x1="679.50" y1="56.00" x2="688.20" y2="59.80" stroke="#1c1c1c" stroke-width="0.8"/>
<path d="M682.4,62.5 L689.1,58.4 L689.5,65.2 Z" stroke="#1c1c1c" stroke-width="1.0" fill="#555"/>
<line x1="558.90" y1="132.50" x2="585.40" y2="146.80" stroke="#1c1c1c" stroke-width="1.3"/>
<line x1="585.40" y1="146.80" x2="708.60" y2="77.10" stroke="#1c1c1c" stroke-width="1.4"/>
<line x1="682.40" y1="62.50" x2="708.60" y2="77.10" stroke="#1c1c1c" stroke-width="1.3"/>
<path d="M542.4,339 L550.8,343 L553.6,342.8 L559.3,339.4 L584.9,353.6" stroke="#1c1c1c" stroke-width="1.3" fill="none"/>
<line x1="584.90" y1="353.50" x2="709.20" y2="282.90" stroke="#1c1c1c" stroke-width="1.5"/>
<path d="M565.35,131.6 L578.1,124.4 L584.3,128.1 L571.3,135.7 Z" stroke="#1c1c1c" stroke-width="1.4" fill="none"/>
<path d="M574,129.2 C571,127.6 568.6,131 570.6,132.6 C572.6,134 574.8,132 573.6,130.6" stroke="#1c1c1c" stroke-width="1.0" fill="none"/>
<line x1="575.20" y1="132.00" x2="579.30" y2="126.20" stroke="#1c1c1c" stroke-width="1.1"/>
<path d="M668.5500000000001,73.6 L681.3000000000001,66.4 L687.5,70.1 L674.5,77.69999999999999 Z" stroke="#1c1c1c" stroke-width="1.4" fill="none"/>
<path d="M677.2,71.19999999999999 C674.2,69.6 671.8000000000001,73 673.8000000000001,74.6 C675.8000000000001,76 678.0,74 676.8000000000001,72.6" stroke="#1c1c1c" stroke-width="1.0" fill="none"/>
<line x1="678.40" y1="74.00" x2="682.50" y2="68.20" stroke="#1c1c1c" stroke-width="1.1"/>
<line x1="567.80" y1="165.00" x2="567.80" y2="178.80" stroke="#1c1c1c" stroke-width="1.1"/>
<line x1="563.60" y1="168.60" x2="575.20" y2="175.60" stroke="#1c1c1c" stroke-width="1.0"/>
<ellipse cx="567.9" cy="171" rx="1.7" ry="2.5" stroke="#1c1c1c" stroke-width="0.9" fill="#444" transform="rotate(-20 567.9 171)"/>
<line x1="567.80" y1="212.00" x2="567.80" y2="225.80" stroke="#1c1c1c" stroke-width="1.1"/>
<line x1="563.60" y1="215.60" x2="575.20" y2="222.60" stroke="#1c1c1c" stroke-width="1.0"/>
<ellipse cx="567.9" cy="218" rx="1.7" ry="2.5" stroke="#1c1c1c" stroke-width="0.9" fill="#444" transform="rotate(-20 567.9 218)"/>
<line x1="567.80" y1="259.00" x2="567.80" y2="272.80" stroke="#1c1c1c" stroke-width="1.1"/>
<line x1="563.60" y1="262.60" x2="575.20" y2="269.60" stroke="#1c1c1c" stroke-width="1.0"/>
<ellipse cx="567.9" cy="265" rx="1.7" ry="2.5" stroke="#1c1c1c" stroke-width="0.9" fill="#444" transform="rotate(-20 567.9 265)"/>
<line x1="567.80" y1="307.50" x2="567.80" y2="321.30" stroke="#1c1c1c" stroke-width="1.1"/>
<line x1="563.60" y1="311.10" x2="575.20" y2="318.10" stroke="#1c1c1c" stroke-width="1.0"/>
<ellipse cx="567.9" cy="313.5" rx="1.7" ry="2.5" stroke="#1c1c1c" stroke-width="0.9" fill="#444" transform="rotate(-20 567.9 313.5)"/>
<line x1="510.00" y1="112.00" x2="542.20" y2="130.40" stroke="#1c1c1c" stroke-width="0.9"/>
<line x1="514.60" y1="115.20" x2="653.80" y2="37.60" stroke="#1c1c1c" stroke-width="0.9"/>
<line x1="648.50" y1="34.50" x2="678.80" y2="53.40" stroke="#1c1c1c" stroke-width="0.9"/>
<circle cx="515.00" cy="115.20" r="1.2" fill="#1c1c1c"/>
<circle cx="653.70" cy="37.60" r="1.4" fill="#1c1c1c"/>
<line x1="648.80" y1="36.20" x2="658.80" y2="36.20" stroke="#1c1c1c" stroke-width="1.0"/>
<text x="573.50" y="78.00" font-size="10.61" textLength="24.50" lengthAdjust="spacingAndGlyphs" fill="#1e1e1e" stroke="#1e1e1e" stroke-width="0.4" transform="rotate(-29 573.50 78.00)">1640</text>
<line x1="506.90" y1="149.50" x2="542.20" y2="130.40" stroke="#1c1c1c" stroke-width="0.9"/>
<line x1="516.30" y1="140.00" x2="516.30" y2="357.00" stroke="#1c1c1c" stroke-width="0.9"/>
<circle cx="516.30" cy="144.30" r="1.1" fill="#1c1c1c"/>
<circle cx="516.30" cy="353.20" r="1.3" fill="#1c1c1c"/>
<text x="513.40" y="267.20" font-size="10.61" textLength="23.20" lengthAdjust="spacingAndGlyphs" fill="#1e1e1e" stroke="#1e1e1e" stroke-width="0.4" transform="rotate(-90 513.40 267.20)">2180</text>
<line x1="513.00" y1="354.80" x2="542.40" y2="339.00" stroke="#1c1c1c" stroke-width="0.9"/>
<line x1="513.50" y1="351.50" x2="554.50" y2="374.00" stroke="#1c1c1c" stroke-width="0.9"/>
<line x1="547.00" y1="375.30" x2="591.00" y2="350.60" stroke="#1c1c1c" stroke-width="0.9"/>
<circle cx="551.90" cy="372.60" r="1.3" fill="#1c1c1c"/>
<text x="532.30" y="358.60" font-size="9.78" textLength="17.50" lengthAdjust="spacingAndGlyphs" fill="#1e1e1e" stroke="#1e1e1e" stroke-width="0.4" transform="rotate(29 532.30 358.60)">400</text>
</svg>
</body></html>
